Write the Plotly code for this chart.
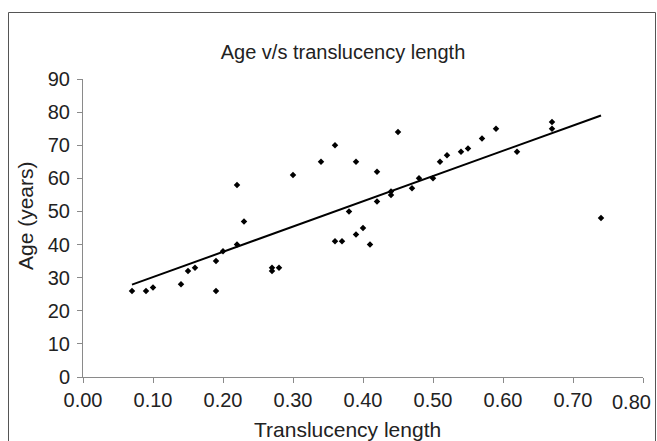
import numpy as np
import plotly.graph_objects as go

# Data
translucency = [0.07, 0.09, 0.10, 0.14, 0.15, 0.16, 0.19, 0.19, 0.20, 0.22,
                0.22, 0.23, 0.27, 0.27, 0.28, 0.30, 0.34, 0.36, 0.36, 0.37,
                0.38, 0.39, 0.39, 0.40, 0.41, 0.42, 0.42, 0.44, 0.44, 0.45,
                0.47, 0.48, 0.50, 0.51, 0.52, 0.54, 0.55, 0.57, 0.59, 0.62,
                0.67, 0.67, 0.74]
age = [26, 26, 27, 28, 32, 33, 35, 26, 38, 58,
       40, 47, 33, 32, 33, 61, 65, 70, 41, 41,
       50, 65, 43, 45, 40, 62, 53, 55, 56, 74,
       57, 60, 60, 65, 67, 68, 69, 72, 75, 68,
       77, 75, 48]
x_ticks = [0.0, 0.1, 0.2, 0.3, 0.4, 0.5, 0.6, 0.7, 0.8]
x_tick_labels = ["0.00", "0.10", "0.20", "0.30", "0.40", "0.50", "0.60", "0.70", "0.80"]
y_ticks = [0, 10, 20, 30, 40, 50, 60, 70, 80, 90]

# Linear trend line fitted to the data
xs = np.array(translucency)
ys = np.array(age)
slope, intercept = np.polyfit(xs, ys, 1)
trend_x = [xs.min(), xs.max()]
trend_y = [intercept + slope * v for v in trend_x]

FONT = "Liberation Sans, Arial, sans-serif"
TXT = "#222222"
AXC = "#8a8a8a"

W, H = 657, 441
# plot area in window pixels: x 83..643, y 79..377
L = 83
R = W - 643
T = 79
B = H - 377
PW = W - L - R
PH = H - T - B


def px(v):  # window pixel x -> paper
    return (v - L) / PW


def py(v):  # window pixel y -> paper
    return (H - B - v) / PH


# last x tick label is drawn as an annotation nudged left so it stays inside the frame
shown_x_labels = x_tick_labels[:-1] + [""]

fig = go.Figure()
fig.add_trace(go.Scatter(
    x=translucency, y=age, mode="markers",
    marker=dict(symbol="diamond", size=5, color="black"),
    showlegend=False))
fig.add_trace(go.Scatter(
    x=trend_x, y=trend_y, mode="lines",
    line=dict(color="black", width=2),
    showlegend=False))

fig.update_layout(
    width=W, height=H,
    margin=dict(l=L, r=R, t=T, b=B, autoexpand=False),
    paper_bgcolor="white", plot_bgcolor="white",
    hovermode=False,
    font=dict(family=FONT, color=TXT, size=20),
    title=dict(text="Age v/s translucency length",
               font=dict(family=FONT, size=20, color=TXT),
               x=px(343), xref="paper", xanchor="center",
               y=1 - 52 / H, yref="container", yanchor="middle"),
    xaxis=dict(range=[0, 0.8], tickvals=x_ticks, ticktext=shown_x_labels,
               showgrid=False, zeroline=False, showline=True, automargin=False,
               linecolor=AXC, linewidth=1, ticks="outside", ticklen=5,
               tickcolor=AXC, tickfont=dict(size=20, color=TXT)),
    yaxis=dict(range=[0, 90], tickvals=y_ticks,
               showgrid=False, zeroline=False, showline=True, automargin=False,
               linecolor=AXC, linewidth=1, ticks="outside", ticklen=5,
               tickcolor=AXC, tickfont=dict(size=20, color=TXT),
               ticklabelstandoff=3),
    annotations=[
        dict(text=x_tick_labels[-1], xref="x", yref="paper",
             x=x_ticks[-1], y=py(402), xanchor="right", yanchor="middle",
             xshift=10, showarrow=False, font=dict(size=20, color=TXT)),
        dict(text="Translucency length", xref="paper", yref="paper",
             x=px(347), y=py(429), xanchor="center", yanchor="middle",
             showarrow=False, font=dict(size=21, color=TXT)),
        dict(text="Age (years)", xref="paper", yref="paper",
             x=px(26), y=py(216), xanchor="center", yanchor="middle",
             textangle=-90, showarrow=False, font=dict(size=21, color=TXT)),
    ],
    shapes=[dict(type="rect", xref="paper", yref="paper",
                 x0=px(8.5), x1=px(655.5), y0=py(450), y1=py(12.5),
                 line=dict(color="#555555", width=1),
                 fillcolor="rgba(0,0,0,0)", layer="below")],
)

# remove the default page margin so the figure fills the 657x441 window exactly
fig.write_html("out.html",
               config={"displayModeBar": False, "staticPlot": True},
               post_script="document.body.style.margin='0';"
                           "document.body.style.overflow='hidden';")
